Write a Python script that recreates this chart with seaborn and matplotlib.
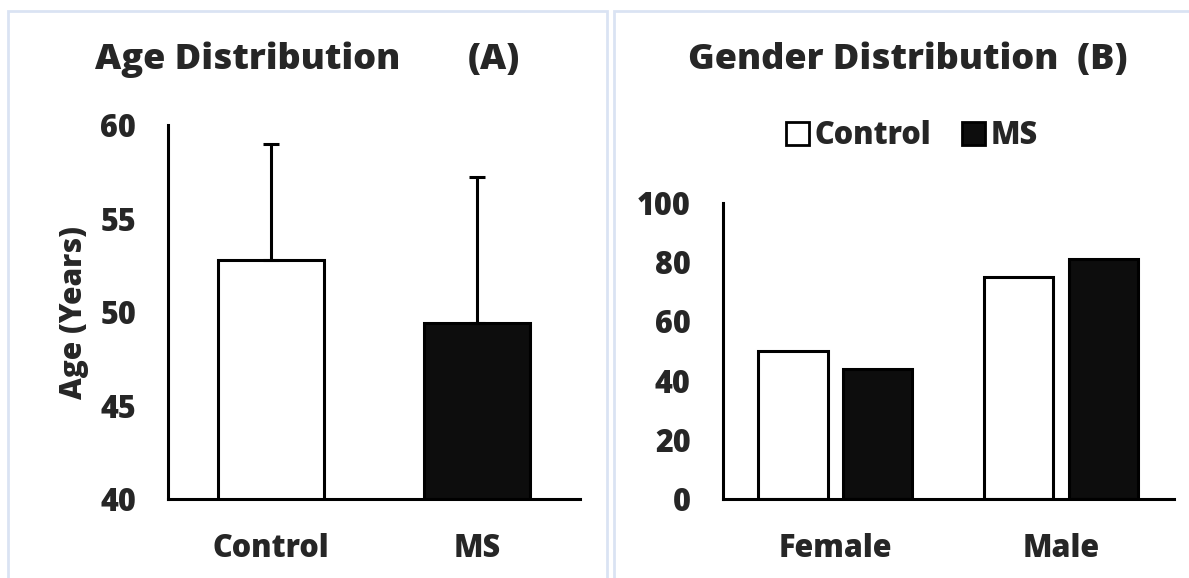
import matplotlib
matplotlib.use("Agg")
import matplotlib.pyplot as plt
from matplotlib.patches import Rectangle, Patch
import seaborn as sns
import pandas as pd
import numpy as np

# data
age_groups = ["Control", "MS"]
age_mean = [52.8, 49.4]
age_sd = [6.2, 7.8]

sexes = ["Female", "Male"]
control_pct = [50, 75]
ms_pct = [44, 81]

FILL = {"Control": "white", "MS": "#0d0d0d"}
FONT = ["Open Sans", "DejaVu Sans"]
W = "heavy"

sns.set_style("white")
plt.rcParams["font.family"] = FONT
plt.rcParams["font.weight"] = W

fig = plt.figure(figsize=(11.89, 5.78), dpi=100)

# light blue panel frames
border = "#dae3f3"
fig.patches.append(Rectangle((8 / 1189, -0.05), 599 / 1189, 1.05 - 11 / 578,
                             transform=fig.transFigure, fill=False,
                             edgecolor=border, linewidth=2))
fig.patches.append(Rectangle((614 / 1189, -0.05), 0.6, 1.05 - 11 / 578,
                             transform=fig.transFigure, fill=False,
                             edgecolor=border, linewidth=2))


def style_axis(ax):
    sns.despine(ax=ax)
    for side in ("left", "bottom"):
        ax.spines[side].set_linewidth(2.2)
        ax.spines[side].set_color("black")
    ax.tick_params(axis="y", length=9, width=2.2, pad=14, labelsize=22)
    ax.tick_params(axis="x", length=0, pad=24, labelsize=22)
    ax.set_xlabel("")
    for lab in ax.get_xticklabels() + ax.get_yticklabels():
        lab.set_fontweight(W)


# (A) age
axA = fig.add_axes([168 / 1189, 78.7 / 578, 412 / 1189, 374.3 / 578])
age_df = pd.DataFrame({"group": age_groups, "age": age_mean})
sns.barplot(data=age_df, x="group", y="age", hue="group", palette=FILL,
            edgecolor="black", linewidth=2.2, width=0.51, legend=False, ax=axA)
axA.errorbar(range(len(age_groups)), age_mean,
             yerr=[np.zeros(len(age_sd)), age_sd], fmt="none",
             ecolor="black", elinewidth=2.2, capsize=6, capthick=2.2, zorder=1)
axA.set_ylim(40, 60)
axA.set_yticks([40, 45, 50, 55, 60])
axA.set_xlim(-0.5, 1.5)
axA.set_ylabel("Age (Years)", fontsize=21.5, fontweight=W, labelpad=8)
style_axis(axA)

# (B) gender
axB = fig.add_axes([722.7 / 1189, 78.7 / 578, 451 / 1189, 296.6 / 578])
gender_df = pd.DataFrame({
    "sex": sexes * 2,
    "group": ["Control"] * len(sexes) + ["MS"] * len(sexes),
    "pct": control_pct + ms_pct,
})
sns.barplot(data=gender_df, x="sex", y="pct", hue="group", palette=FILL,
            edgecolor="black", linewidth=2.2, width=0.75, gap=0.18, ax=axB)
axB.set_ylim(0, 100)
axB.set_yticks(range(0, 101, 20))
axB.set_xlim(-0.5, 1.5)
axB.set_ylabel("")
style_axis(axB)
handles = [Patch(facecolor=FILL[g], edgecolor="black", linewidth=2) for g in age_groups]
axB.legend(handles, age_groups, loc="center", bbox_to_anchor=(912 / 1189, 1 - 136 / 578),
           bbox_transform=fig.transFigure, ncol=2, frameon=False,
           prop={"size": 22, "weight": W}, handlelength=0.75, handleheight=0.75,
           handletextpad=0.2, columnspacing=1.0)

fig.text(95 / 1189, 1 - 60 / 578, "Age Distribution", fontsize=26,
         fontweight=W, va="center", ha="left")
fig.text(520 / 1189, 1 - 60 / 578, "(A)", fontsize=26,
         fontweight=W, va="center", ha="right")
fig.text(908 / 1189, 1 - 60 / 578, "Gender Distribution  (B)", fontsize=26,
         fontweight=W, va="center", ha="center")

fig.savefig("out.png", dpi=100)
